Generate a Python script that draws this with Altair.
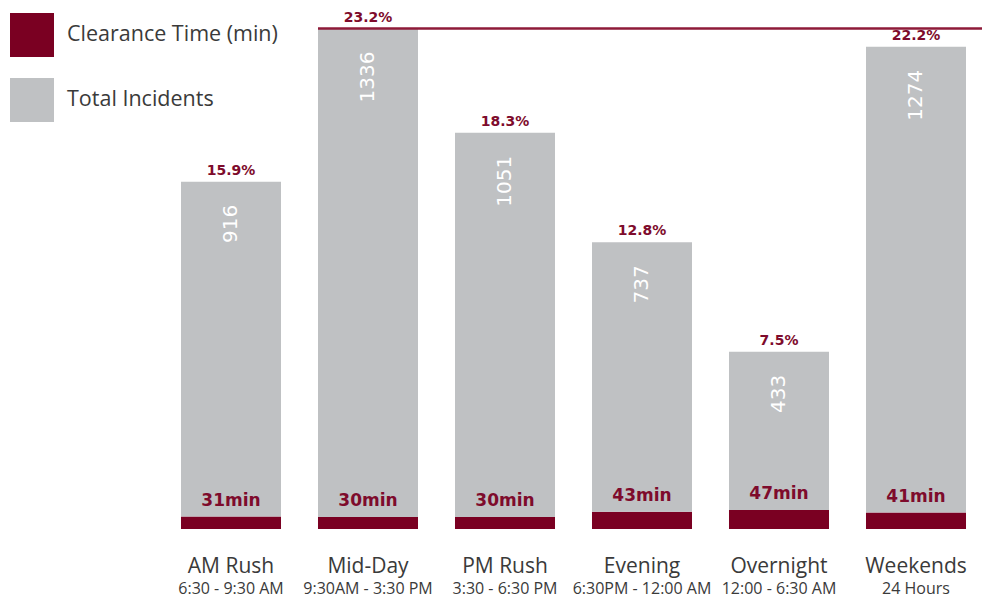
import altair as alt
import pandas as pd

# ---- data ----
categories = ["AM Rush", "Mid-Day", "PM Rush", "Evening", "Overnight", "Weekends"]
time_ranges = ["6:30 - 9:30 AM", "9:30AM - 3:30 PM", "3:30 - 6:30 PM",
               "6:30PM - 12:00 AM", "12:00 - 6:30 AM", "24 Hours"]
incidents = [916, 1336, 1051, 737, 433, 1274]
clearance_min = [31, 30, 30, 43, 47, 41]

SERIES = ["Clearance Time (min)", "Total Incidents"]
MIN_SCALE = 1.1          # display height of the clearance strip, incident-units per minute
MAROON = "#7a0022"
GRAY = "#bfc1c3"
LABEL_MAROON = "#7e0b2c"
TEXT_GRAY = "#3a3a3a"

rows = []
for c, t, n, m in zip(categories, time_ranges, incidents, clearance_min):
    base = m * MIN_SCALE
    rows.append(dict(cat=c, series=SERIES[0], y0=0.0, y1=base))
    rows.append(dict(cat=c, series=SERIES[1], y0=base, y1=base + n))
long_df = pd.DataFrame(rows)

wide = pd.DataFrame(dict(cat=categories, t=time_ranges, n=incidents, m=clearance_min))
wide["base"] = wide["m"] * MIN_SCALE
wide["top"] = wide["base"] + wide["n"]

W, H = 819.5, 521
xscale = alt.Scale(paddingInner=0.27, paddingOuter=0.135, range=[0, 822])
yscale = alt.Scale(domain=[0, 1425.4], nice=False, zero=True)


def X(**kw):
    return alt.X("cat:N", sort=categories, scale=xscale, axis=None, **kw)


bars = alt.Chart(long_df).mark_bar().encode(
    x=X(),
    y=alt.Y("y1:Q", scale=yscale, axis=None),
    y2="y0:Q",
    color=alt.Color(
        "series:N",
        scale=alt.Scale(domain=SERIES, range=[MAROON, GRAY]),
        legend=alt.Legend(
            title=None, orient="none", legendX=-152.5, legendY=5,
            symbolType="square", symbolSize=1936, symbolStrokeWidth=0,
            symbolOpacity=1, labelFont="Open Sans", labelFontSize=21.5,
            labelColor=TEXT_GRAY, labelOffset=13, rowPadding=21, padding=0,
            labelLimit=400,
        ),
    ),
)

max_line = alt.Chart(wide).transform_joinaggregate(
    maxtop="max(top)"
).transform_filter("datum.top == datum.maxtop").mark_rule(
    color="#8e1a38", strokeWidth=2.5
).encode(
    x=X(bandPosition=0),
    x2=alt.value(W + 10),
    y=alt.Y("top:Q", scale=yscale, axis=None),
)

pct_labels = alt.Chart(wide).transform_joinaggregate(
    total="sum(n)"
).transform_calculate(pct="datum.n / datum.total").mark_text(
    font="DejaVu Sans", fontWeight="bold", fontSize=14, color=LABEL_MAROON,
    baseline="alphabetic", yOffset=-7,
).encode(
    x=X(), y=alt.Y("top:Q", scale=yscale, axis=None),
    text=alt.Text("pct:Q", format=".1%"),
)

count_labels = alt.Chart(wide).mark_text(
    angle=270, align="right", baseline="middle", color="white",
    font="DejaVu Sans", fontSize=20, yOffset=23,
).encode(
    x=X(), y=alt.Y("top:Q", scale=yscale, axis=None), text="n:Q",
)

min_labels = alt.Chart(wide).transform_calculate(
    mlabel="datum.m + 'min'"
).mark_text(
    font="DejaVu Sans", fontWeight="bold", fontSize=17, color=LABEL_MAROON,
    baseline="alphabetic", yOffset=-11,
).encode(
    x=X(), y=alt.Y("base:Q", scale=yscale, axis=None), text="mlabel:N",
)

cat_labels = alt.Chart(wide).mark_text(
    font="Open Sans", fontSize=21, color=TEXT_GRAY, baseline="alphabetic",
).encode(x=X(), y=alt.value(H + 44), text="cat:N")

range_labels = alt.Chart(wide).mark_text(
    font="Open Sans", fontSize=16, color=TEXT_GRAY, baseline="alphabetic",
).encode(x=X(), y=alt.value(H + 65), text="t:N")

chart = alt.layer(
    bars, max_line, pct_labels, count_labels, min_labels, cat_labels, range_labels
).properties(
    width=W, height=H,
    padding={"left": 154.5, "top": 0, "right": 0, "bottom": 70},
    autosize="none",
).configure_view(stroke=None)

chart.save("out.html", embed_options={"renderer": "svg", "actions": False})
